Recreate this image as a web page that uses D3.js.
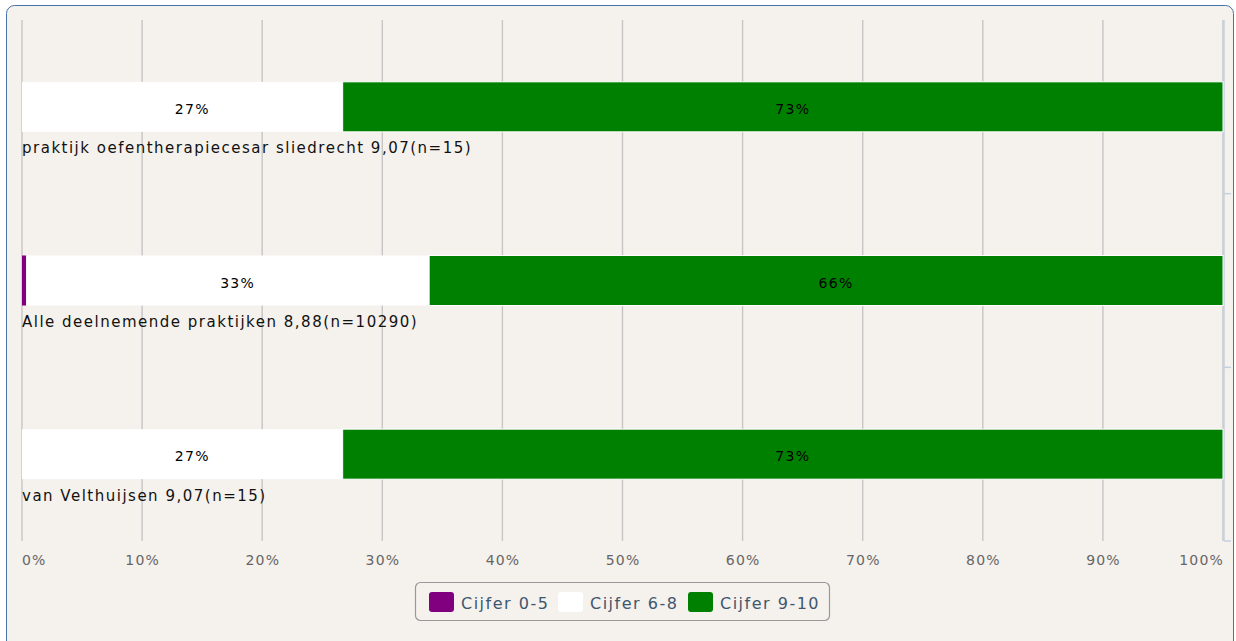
<!DOCTYPE html>
<html><head><meta charset="utf-8">
<script src="https://cdn.jsdelivr.net/npm/d3@7"></script>
<style>
html,body{margin:0;padding:0;background:#fff;}
svg{display:block;font-family:"DejaVu Sans",Verdana,sans-serif;}
</style></head>
<body>
<svg id="chart" width="1236" height="641"></svg>
<script>
const categories = [
  "praktijk oefentherapiecesar sliedrecht 9,07(n=15)",
  "Alle deelnemende praktijken 8,88(n=10290)",
  "van Velthuijsen 9,07(n=15)"
];
const seriesNames = ["Cijfer 0-5", "Cijfer 6-8", "Cijfer 9-10"];
const seriesColors = ["#800080", "#ffffff", "#008000"];
const cijfer05 = [0, 0.35, 0];
const cijfer68 = [26.7, 33.55, 26.7];
const cijfer910 = [73.3, 66.1, 73.3];
const labels05 = ["", "", ""];
const labels68 = ["27%", "33%", "27%"];
const labels910 = ["73%", "66%", "73%"];
const xTicks = [0, 10, 20, 30, 40, 50, 60, 70, 80, 90, 100];

const seriesValues = [cijfer05, cijfer68, cijfer910];
const seriesLabels = [labels05, labels68, labels910];

const svg = d3.select("#chart");
const plot = {left: 22, right: 1223, top: 20, bottom: 541};

// background + border
svg.append("rect").attr("x", 6.5).attr("y", 5.5).attr("width", 1227).attr("height", 660)
  .attr("rx", 8).attr("fill", "#f5f1ed").attr("stroke", "#4572a7").attr("stroke-width", 1);

const x = d3.scaleLinear().domain([0, 100]).range([plot.left, plot.right]);
const y = d3.scaleBand().domain(categories).range([plot.top, plot.bottom]).paddingInner(0).paddingOuter(0);
const barH = 50;

// gridlines
svg.append("g").selectAll("line").data(xTicks).join("line")
  .attr("x1", d => x(d)).attr("x2", d => x(d))
  .attr("y1", plot.top).attr("y2", plot.bottom)
  .attr("stroke", "#c6c6c6").attr("stroke-width", 1.4);

// category axis line on the right with ticks
const catAxis = svg.append("g");
catAxis.append("line").attr("x1", plot.right + 1).attr("x2", plot.right + 1)
  .attr("y1", plot.top).attr("y2", plot.bottom).attr("stroke", "#c0d0e0").attr("stroke-width", 1.4);
const boundaries = categories.map(c => y(c) + y.bandwidth());
catAxis.selectAll("line.t").data(boundaries).join("line").attr("class", "t")
  .attr("x1", plot.right + 1).attr("x2", plot.right + 8)
  .attr("y1", d => d).attr("y2", d => d)
  .attr("stroke", "#c0d0e0").attr("stroke-width", 1.4);

// stacked bars
const stacks = categories.map((c, i) => {
  let acc = 0;
  return seriesValues.map((vals, s) => {
    const d = {cat: c, s, x0: acc, x1: acc + vals[i], label: seriesLabels[s][i]};
    acc += vals[i];
    return d;
  });
});
const bars = svg.append("g");
stacks.forEach(st => {
  st.forEach(d => {
    if (d.x1 - d.x0 <= 0) return;
    const cy = y(d.cat) + y.bandwidth() / 2;
    bars.append("rect")
      .attr("x", x(d.x0)).attr("width", x(d.x1) - x(d.x0))
      .attr("y", cy - barH / 2).attr("height", barH)
      .attr("fill", seriesColors[d.s])
      .attr("stroke", d.s === 2 ? "#ffffff" : "none").attr("stroke-width", 1);
  });
});
// data labels
stacks.forEach(st => {
  st.forEach(d => {
    if (!d.label) return;
    const cy = y(d.cat) + y.bandwidth() / 2;
    svg.append("text")
      .attr("x", (x(d.x0) + x(d.x1)) / 2 + 10).attr("y", cy + 7.3)
      .attr("text-anchor", "middle")
      .attr("font-size", 14).attr("letter-spacing", 1.3).attr("fill", "#000")
      .text(d.label);
  });
});

// category labels below bars
svg.append("g").selectAll("text").data(categories).join("text")
  .attr("x", plot.left).attr("y", d => y(d) + y.bandwidth() / 2 + 46.5)
  .attr("font-size", 15).attr("letter-spacing", 1.5)
  .attr("fill", "#111").text(d => d);

// x axis labels
svg.append("g").selectAll("text").data(xTicks).join("text")
  .attr("x", (d, i) => i === 0 ? x(d) : (i === xTicks.length - 1 ? x(d) + 1 : x(d) + 0.6))
  .attr("y", 564.5)
  .attr("text-anchor", (d, i) => i === 0 ? "start" : (i === xTicks.length - 1 ? "end" : "middle"))
  .attr("font-size", 14).attr("letter-spacing", 1.2).attr("fill", "#666")
  .text(d => d + "%");

// legend
const lg = svg.append("g");
lg.append("rect").attr("x", 415.5).attr("y", 582.5).attr("width", 414).attr("height", 38)
  .attr("rx", 5).attr("fill", "none").attr("stroke", "#999").attr("stroke-width", 1.2);
const legX = [429, 558, 688];
seriesNames.forEach((n, i) => {
  lg.append("rect").attr("x", legX[i]).attr("y", 592).attr("width", 25).attr("height", 20)
    .attr("rx", 3).attr("fill", seriesColors[i]);
  lg.append("text").attr("x", legX[i] + 32).attr("y", 608.5)
    .attr("font-size", 16).attr("letter-spacing", 1.5).attr("fill", "#3e576f").text(n);
});
</script>
</body></html>
